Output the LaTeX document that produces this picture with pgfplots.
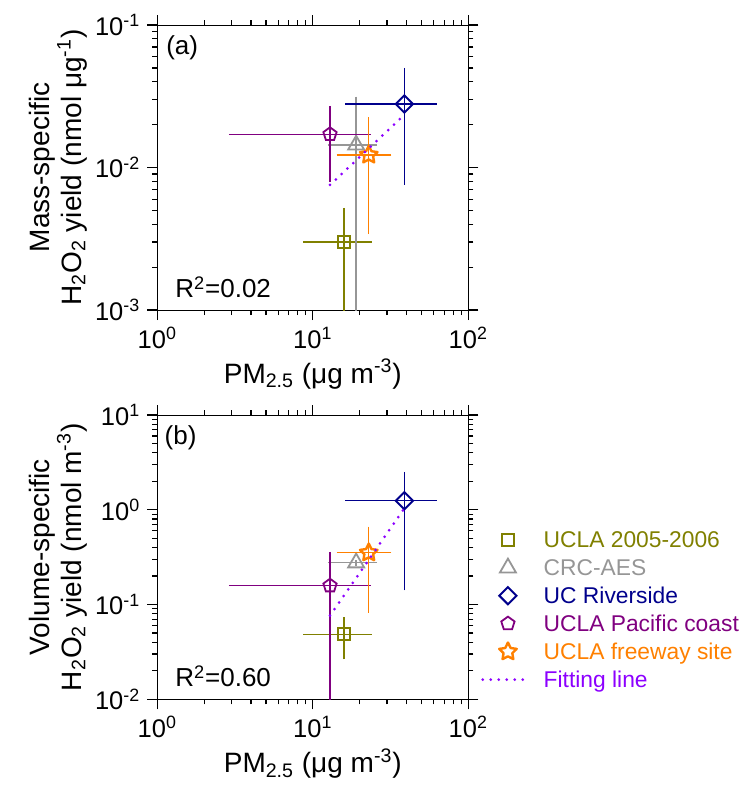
\documentclass[border=0pt]{standalone}
\usepackage{fontspec}
\setmainfont{Liberation Sans}
\usepackage{pgfplots}
\pgfplotsset{compat=1.18}
\usetikzlibrary{plotmarks}

\definecolor{cOlive}{RGB}{128,128,0}
\definecolor{cGray}{RGB}{150,150,150}
\definecolor{cNavy}{RGB}{0,0,140}
\definecolor{cPurple}{RGB}{128,0,128}
\definecolor{cOrange}{RGB}{255,128,0}
\definecolor{cViolet}{RGB}{140,0,255}

\pgfdeclareplotmark{fivestar}{%
 \pgfpathmoveto{\pgfqpointpolar{90}{\pgfplotmarksize}}%
 \pgfpathlineto{\pgfqpointpolar{126}{0.5\pgfplotmarksize}}%
 \pgfpathlineto{\pgfqpointpolar{162}{\pgfplotmarksize}}%
 \pgfpathlineto{\pgfqpointpolar{198}{0.5\pgfplotmarksize}}%
 \pgfpathlineto{\pgfqpointpolar{234}{\pgfplotmarksize}}%
 \pgfpathlineto{\pgfqpointpolar{270}{0.5\pgfplotmarksize}}%
 \pgfpathlineto{\pgfqpointpolar{306}{\pgfplotmarksize}}%
 \pgfpathlineto{\pgfqpointpolar{342}{0.5\pgfplotmarksize}}%
 \pgfpathlineto{\pgfqpointpolar{18}{\pgfplotmarksize}}%
 \pgfpathlineto{\pgfqpointpolar{54}{0.5\pgfplotmarksize}}%
 \pgfpathclose\pgfusepathqstroke}
\pgfdeclareplotmark{rdiamond}{%
 \pgfpathmoveto{\pgfqpoint{0pt}{\pgfplotmarksize}}%
 \pgfpathlineto{\pgfqpoint{\pgfplotmarksize}{0pt}}%
 \pgfpathlineto{\pgfqpoint{0pt}{-\pgfplotmarksize}}%
 \pgfpathlineto{\pgfqpoint{-\pgfplotmarksize}{0pt}}%
 \pgfpathclose\pgfusepathqstroke}

\newcommand{\lblfont}{\fontsize{14}{16}\selectfont}
\newcommand{\tckfont}{\fontsize{12.75}{15}\selectfont}
\newcommand{\rfont}{\fontsize{13}{15}\selectfont}

\tikzset{
 tk/.style={draw=black, line width=0.6pt},
 sSq/.style={color=cOlive, mark=square, mark size=3pt, mark options={line width=0.9pt, fill=none}},
 sTri/.style={color=cGray, mark=triangle, mark size=4.6pt, mark options={line width=0.9pt, fill=none}},
 sDia/.style={color=cNavy, mark=rdiamond, mark size=4.3pt, mark options={line width=1pt, fill=none}},
 sPen/.style={color=cPurple, mark=pentagon, mark size=3.5pt, mark options={line width=0.9pt, fill=none}},
 sStar/.style={color=cOrange, mark=fivestar, mark size=4.6pt, mark options={line width=1.2pt, fill=none, line join=round}},
 sFit/.style={color=cViolet, line width=1.5pt, line cap=round, dash pattern=on 0pt off 4pt},
}
\pgfplotsset{
 legmark/.style={legend image code/.code={\node[inner sep=0pt] at (0pt,0pt) {}; \draw[##1] plot coordinates {(12.65pt,1pt)}; \node[inner sep=0pt] at (28.8pt,0pt) {};}},
 legline/.style={legend image code/.code={\node[inner sep=0pt] at (0pt,0pt) {}; \draw[##1] (0pt,1pt) -- (22pt,1pt); \node[inner sep=0pt] at (28.8pt,0pt) {};}},
}

\begin{document}
\begin{tikzpicture}
\path (0pt,0pt) rectangle (370.5pt,-393pt);

% ---------- panel (a)
\begin{axis}[at={(78.65pt,-155pt)}, anchor=south west,
  scale only axis, width=155.5pt, height=142.5pt,
  clip mode=individual,
  xmode=log, ymode=log, xmin=1, xmax=100, ymin=1e-3, ymax=1e-1,
  xtick={1,10,100},
  xticklabels={10\textsuperscript{0},10\textsuperscript{1},10\textsuperscript{2}},
  minor xtick={2,3,4,5,6,7,8,9,20,30,40,50,60,70,80,90},
  ytick={1e-3,1e-2,1e-1},
  yticklabels={10\textsuperscript{-3},10\textsuperscript{-2},10\textsuperscript{-1}},
  minor ytick={2e-3,3e-3,4e-3,5e-3,6e-3,7e-3,8e-3,9e-3,2e-2,3e-2,4e-2,5e-2,6e-2,7e-2,8e-2,9e-2},
  tick align=outside,
  major tick length=5pt, minor tick length=2.5pt,
  major tick style={draw=black, line width=0.6pt},
  minor tick style={draw=black, line width=0.6pt},
  ticklabel style={font=\tckfont},
  xlabel={PM\textsubscript{2.5} (μg m\textsuperscript{-3})},
  xlabel style={at={(axis description cs:0.5,0)}, anchor=base, yshift=-36.7pt, font=\lblfont},
  ylabel={Mass-specific\\H\textsubscript{2}O\textsubscript{2} yield (nmol μg\textsuperscript{-1})},
  ylabel style={at={(axis description cs:-0.32,0.5)}, anchor=center, align=center, font=\lblfont},
]
\addplot[sSq, only marks, error bars/.cd, x dir=both, x explicit, y dir=both, y explicit, error bar style={line width=0.7pt}, error mark options={line width=0.7pt, mark size=1.3pt}]
  coordinates {(15.9,0.0030) += (7.2,0.0020) -= (6.9,0.0029)};
\addplot[sTri, only marks, error bars/.cd, x dir=both, x explicit, y dir=both, y explicit, error bar style={line width=0.7pt}, error mark options={line width=0.7pt, mark size=1.3pt}]
  coordinates {(19.0,0.0144) += (5.9,0.0157) -= (6.0,0.0143)};
\addplot[sPen, only marks, error bars/.cd, x dir=both, x explicit, y dir=both, y explicit, error bar style={line width=0.7pt}, error mark options={line width=0.7pt, mark size=1.3pt}]
  coordinates {(12.9,0.0171) += (9.8,0.0089) -= (9.9,0.0088)};
\addplot[sStar, only marks, error bars/.cd, x dir=both, x explicit, y dir=both, y explicit, error bar style={line width=0.7pt}, error mark options={line width=0.7pt, mark size=1.3pt}]
  coordinates {(22.9,0.01225) += (7.9,0.0093) -= (8.1,0.0087)};
\addplot[sDia, only marks, error bars/.cd, x dir=both, x explicit, y dir=both, y explicit, error bar style={line width=0.7pt}, error mark options={line width=0.7pt, mark size=1.3pt}]
  coordinates {(38.8,0.0279) += (21.6,0.0201) -= (22.0,0.0200)};
\addplot[sFit] coordinates {(12.9,0.00754) (38.8,0.0234)};
\node[font=\rfont] at (rel axis cs:0.08,0.919) {(a)};
\node[font=\rfont, anchor=base west] at (rel axis cs:0.035,0.043) {R\textsuperscript{2}=0.02};
% axis ticks
\pgfplotsinvokeforeach{1,10,100}{\draw[tk] (axis cs:#1,0.001) -- ++(0pt,-5pt); \draw[tk] (axis cs:#1,0.1) -- ++(0pt,5pt);}
\pgfplotsinvokeforeach{2,3,4,5,6,7,8,9,20,30,40,50,60,70,80,90}{\draw[tk] (axis cs:#1,0.001) -- ++(0pt,-2.5pt); \draw[tk] (axis cs:#1,0.1) -- ++(0pt,2.5pt);}
\pgfplotsinvokeforeach{0.001,0.01,0.1}{\draw[tk] (axis cs:1,#1) -- ++(-5pt,0pt); \draw[tk] (axis cs:100,#1) -- ++(5pt,0pt);}
\pgfplotsinvokeforeach{0.002,0.003,0.004,0.005,0.006,0.007,0.008,0.009,0.02,0.03,0.04,0.05,0.06,0.07,0.08,0.09}{\draw[tk] (axis cs:1,#1) -- ++(-2.5pt,0pt); \draw[tk] (axis cs:100,#1) -- ++(2.5pt,0pt);}
\end{axis}

% ---------- panel (b)
\begin{axis}[at={(78.65pt,-349.65pt)}, anchor=south west,
  scale only axis, width=155.5pt, height=142.15pt,
  clip mode=individual,
  xmode=log, ymode=log, xmin=1, xmax=100, ymin=1e-2, ymax=10,
  xtick={1,10,100},
  xticklabels={10\textsuperscript{0},10\textsuperscript{1},10\textsuperscript{2}},
  minor xtick={2,3,4,5,6,7,8,9,20,30,40,50,60,70,80,90},
  ytick={1e-2,1e-1,1,10},
  yticklabels={10\textsuperscript{-2},10\textsuperscript{-1},10\textsuperscript{0},10\textsuperscript{1}},
  minor ytick={0.02,0.03,0.04,0.05,0.06,0.07,0.08,0.09,0.2,0.3,0.4,0.5,0.6,0.7,0.8,0.9,2,3,4,5,6,7,8,9},
  tick align=outside,
  major tick length=5pt, minor tick length=2.5pt,
  major tick style={draw=black, line width=0.6pt},
  minor tick style={draw=black, line width=0.6pt},
  ticklabel style={font=\tckfont},
  xlabel={PM\textsubscript{2.5} (μg m\textsuperscript{-3})},
  xlabel style={at={(axis description cs:0.5,0)}, anchor=base, yshift=-36.7pt, font=\lblfont},
  ylabel={Volume-specific\\H\textsubscript{2}O\textsubscript{2} yield (nmol m\textsuperscript{-3})},
  ylabel style={at={(axis description cs:-0.32,0.5)}, anchor=center, align=center, font=\lblfont},
  legend style={at={(rel axis cs:1.040,0.5944)}, anchor=north west, draw=none, fill=none,
    inner sep=0pt, font=\fontsize{11.4}{13}\selectfont, row sep=2.95pt,
    nodes={inner sep=0pt, text height=8.5pt, text depth=2.5pt}},
  legend cell align=left,
]
\addplot[sSq, only marks, forget plot, error bars/.cd, x dir=both, x explicit, y dir=both, y explicit, error bar style={line width=0.7pt}, error mark options={line width=0.7pt, mark size=1.3pt}]
  coordinates {(15.9,0.0486) += (7.2,0.0205) -= (6.9,0.0205)};
\addplot[sTri, only marks, forget plot, error bars/.cd, x dir=both, x explicit, y dir=both, y explicit, error bar style={line width=0.7pt}, error mark options={line width=0.7pt, mark size=1.3pt}]
  coordinates {(19.0,0.276) += (5.9,0.001) -= (6.0,0.001)};
\addplot[sPen, only marks, forget plot, error bars/.cd, x dir=both, x explicit, y dir=both, y explicit, error bar style={line width=0.7pt}, error mark options={line width=0.7pt, mark size=1.3pt}]
  coordinates {(12.9,0.158) += (9.8,0.18) -= (9.9,0.1575)};
\addplot[sStar, only marks, forget plot, error bars/.cd, x dir=both, x explicit, y dir=both, y explicit, error bar style={line width=0.7pt}, error mark options={line width=0.7pt, mark size=1.3pt}]
  coordinates {(22.9,0.352) += (7.9,0.27) -= (8.1,0.2645)};
\addplot[sDia, only marks, forget plot, error bars/.cd, x dir=both, x explicit, y dir=both, y explicit, error bar style={line width=0.7pt}, error mark options={line width=0.7pt, mark size=1.3pt}]
  coordinates {(38.8,1.245) += (21.6,1.11) -= (22.0,1.095)};
\addplot[sFit, forget plot] coordinates {(12.9,0.0762) (38.8,1.035)};
\node[font=\rfont] at (rel axis cs:0.075,0.919) {(b)};
\node[font=\rfont, anchor=base west] at (rel axis cs:0.035,0.044) {R\textsuperscript{2}=0.60};
% axis ticks
\pgfplotsinvokeforeach{1,10,100}{\draw[tk] (axis cs:#1,0.01) -- ++(0pt,-5pt); \draw[tk] (axis cs:#1,10) -- ++(0pt,5pt);}
\pgfplotsinvokeforeach{2,3,4,5,6,7,8,9,20,30,40,50,60,70,80,90}{\draw[tk] (axis cs:#1,0.01) -- ++(0pt,-2.5pt); \draw[tk] (axis cs:#1,10) -- ++(0pt,2.5pt);}
\pgfplotsinvokeforeach{0.01,0.1,1,10}{\draw[tk] (axis cs:1,#1) -- ++(-5pt,0pt); \draw[tk] (axis cs:100,#1) -- ++(5pt,0pt);}
\pgfplotsinvokeforeach{0.02,0.03,0.04,0.05,0.06,0.07,0.08,0.09,0.2,0.3,0.4,0.5,0.6,0.7,0.8,0.9,2,3,4,5,6,7,8,9}{\draw[tk] (axis cs:1,#1) -- ++(-2.5pt,0pt); \draw[tk] (axis cs:100,#1) -- ++(2.5pt,0pt);}

\addlegendimage{sSq, only marks, legmark}
\addlegendentry{\textcolor{cOlive}{UCLA 2005-2006}}
\addlegendimage{sTri, only marks, legmark}
\addlegendentry{\textcolor{cGray}{CRC-AES}}
\addlegendimage{sDia, only marks, legmark}
\addlegendentry{\textcolor{cNavy}{UC Riverside}}
\addlegendimage{sPen, only marks, legmark}
\addlegendentry{\textcolor{cPurple}{UCLA Pacific coast}}
\addlegendimage{sStar, only marks, legmark}
\addlegendentry{\textcolor{cOrange}{UCLA freeway site}}
\addlegendimage{sFit, legline}
\addlegendentry{\textcolor{cViolet}{Fitting line}}
\end{axis}
\end{tikzpicture}
\end{document}
